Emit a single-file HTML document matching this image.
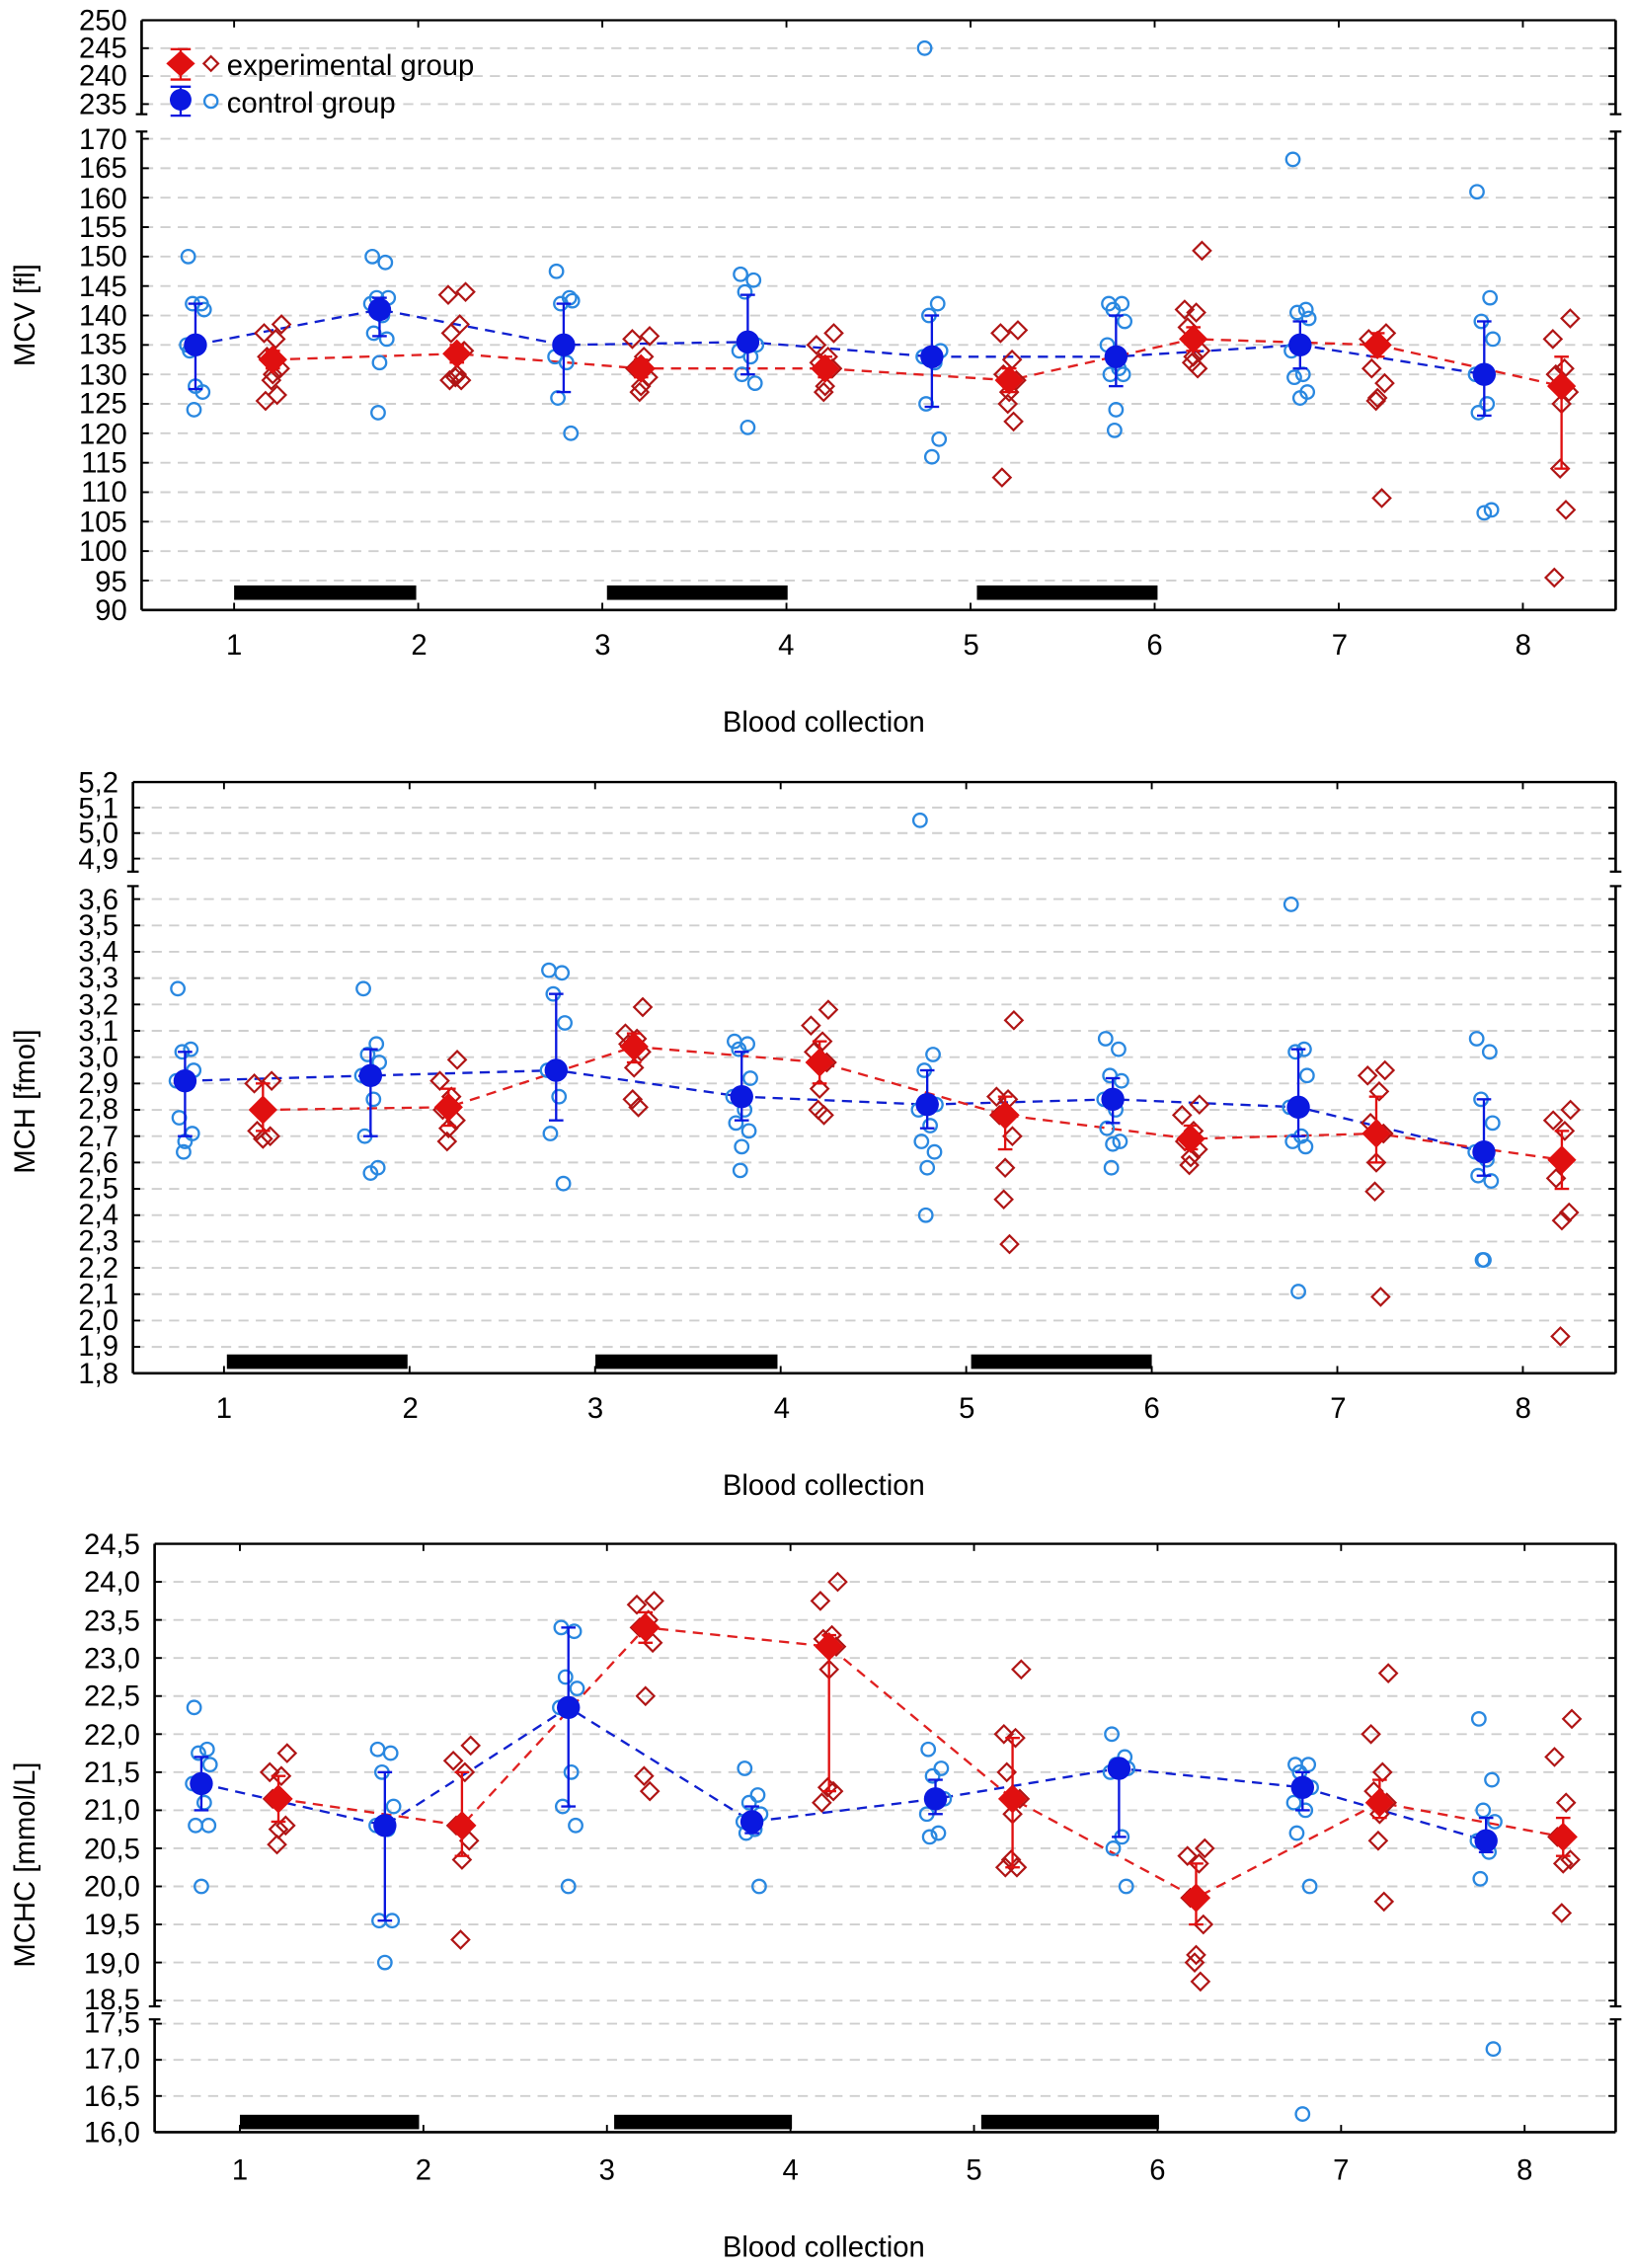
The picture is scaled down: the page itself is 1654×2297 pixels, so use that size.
<!DOCTYPE html>
<html><head><meta charset="utf-8"><style>
html,body{margin:0;padding:0;background:#fff}
svg{display:block}
text{font-family:"Liberation Sans",sans-serif;fill:#000}
.t{font-size:20px}
</style></head><body>
<svg id="s" width="1654" height="2297" viewBox="0 0 1130 1569" preserveAspectRatio="none" xmlns="http://www.w3.org/2000/svg">
<g id="g"></g>
<g class="t" text-anchor="end">
<text x="88" y="21">250</text><text x="88" y="40">245</text><text x="88" y="59">240</text><text x="88" y="79">235</text>
<text x="88" y="103">170</text><text x="88" y="123">165</text><text x="88" y="144">160</text><text x="88" y="164">155</text>
<text x="88" y="184">150</text><text x="88" y="205">145</text><text x="88" y="225">140</text><text x="88" y="245">135</text>
<text x="88" y="266">130</text><text x="88" y="286">125</text><text x="88" y="307">120</text><text x="88" y="327">115</text>
<text x="88" y="347">110</text><text x="88" y="368">105</text><text x="88" y="388">100</text><text x="88" y="409">95</text>
<text x="88" y="429">90</text>
</g>
<g class="t" text-anchor="middle">
<text x="162" y="453">1</text><text x="290" y="453">2</text><text x="417" y="453">3</text><text x="544" y="453">4</text>
<text x="672" y="453">5</text><text x="799" y="453">6</text><text x="927" y="453">7</text><text x="1054" y="453">8</text>
<text x="570" y="506">Blood collection</text>
</g>
<text class="t" transform="translate(24,218) rotate(-90)" text-anchor="middle">MCV [fl]</text>
<text class="t" x="157" y="52">experimental group</text>
<text class="t" x="157" y="78">control group</text>
<g class="t" text-anchor="end">
<text x="82" y="548">5,2</text><text x="82" y="566">5,1</text><text x="82" y="583">5,0</text><text x="82" y="601">4,9</text>
<text x="82" y="629">3,6</text><text x="82" y="647">3,5</text><text x="82" y="665">3,4</text><text x="82" y="683">3,3</text>
<text x="82" y="702">3,2</text><text x="82" y="720">3,1</text><text x="82" y="738">3,0</text><text x="82" y="756">2,9</text>
<text x="82" y="774">2,8</text><text x="82" y="793">2,7</text><text x="82" y="811">2,6</text><text x="82" y="829">2,5</text>
<text x="82" y="847">2,4</text><text x="82" y="865">2,3</text><text x="82" y="884">2,2</text><text x="82" y="902">2,1</text>
<text x="82" y="920">2,0</text><text x="82" y="938">1,9</text><text x="82" y="957">1,8</text>
</g>
<g class="t" text-anchor="middle">
<text x="155" y="981">1</text><text x="284" y="981">2</text><text x="412" y="981">3</text><text x="541" y="981">4</text>
<text x="669" y="981">5</text><text x="797" y="981">6</text><text x="926" y="981">7</text><text x="1054" y="981">8</text>
<text x="570" y="1034">Blood collection</text>
</g>
<text class="t" transform="translate(24,762) rotate(-90)" text-anchor="middle">MCH [fmol]</text>
<g class="t" text-anchor="end">
<text x="97" y="1075">24,5</text><text x="97" y="1101">24,0</text><text x="97" y="1128">23,5</text><text x="97" y="1154">23,0</text>
<text x="97" y="1180">22,5</text><text x="97" y="1207">22,0</text><text x="97" y="1233">21,5</text><text x="97" y="1259">21,0</text>
<text x="97" y="1286">20,5</text><text x="97" y="1312">20,0</text><text x="97" y="1338">19,5</text><text x="97" y="1365">19,0</text>
<text x="97" y="1390">18,5</text><text x="97" y="1406">17,5</text><text x="97" y="1431">17,0</text><text x="97" y="1457">16,5</text>
<text x="97" y="1482">16,0</text>
</g>
<g class="t" text-anchor="middle">
<text x="166" y="1508">1</text><text x="293" y="1508">2</text><text x="420" y="1508">3</text><text x="547" y="1508">4</text>
<text x="674" y="1508">5</text><text x="801" y="1508">6</text><text x="928" y="1508">7</text><text x="1055" y="1508">8</text>
<text x="570" y="1561">Blood collection</text>
</g>
<text class="t" transform="translate(24,1290) rotate(-90)" text-anchor="middle">MCHC [mmol/L]</text>
</svg>
<script>
(function(){
var NS="http://www.w3.org/2000/svg",G=document.getElementById("g");
function el(n,a){var e=document.createElementNS(NS,n);for(var k in a)e.setAttribute(k,a[k]);G.appendChild(e);return e;}
var BL="#0a18e0",LB="#2a88e0",RD="#e01010",DR="#b01515";
var J=[-5,4,-2,6,-6,2,-4,5,0,-1,3];
function chart(c){
  var ym=c.ym;
  c.grid.forEach(function(v){var y=ym(v);el("line",{x1:c.L+1,x2:c.R-1,y1:y,y2:y,stroke:"#cfcfcf","stroke-width":1.3,"stroke-dasharray":"7,5"});});
  el("line",{x1:c.L,x2:c.R,y1:c.T,y2:c.T,stroke:"#000","stroke-width":1.6});
  el("line",{x1:c.L,x2:c.R,y1:c.B,y2:c.B,stroke:"#000","stroke-width":1.8});
  [c.L,c.R].forEach(function(x){
    el("line",{x1:x,x2:x,y1:c.T,y2:c.b1,stroke:"#000","stroke-width":1.8});
    el("line",{x1:x,x2:x,y1:c.b2,y2:c.B,stroke:"#000","stroke-width":1.8});
    el("line",{x1:x-4,x2:x+4,y1:c.b1,y2:c.b1,stroke:"#000","stroke-width":1.5});
    el("line",{x1:x-4,x2:x+4,y1:c.b2,y2:c.b2,stroke:"#000","stroke-width":1.5});
    c.grid.forEach(function(v){var y=ym(v);el("line",{x1:x,x2:x+(x==c.L?5:-5),y1:y,y2:y,stroke:"#000","stroke-width":1.3});});
  });
  for(var i=0;i<8;i++){var x=c.x0+i*c.dx;
    el("line",{x1:x,x2:x,y1:c.B,y2:c.B-5,stroke:"#000","stroke-width":1.3});
    el("line",{x1:x,x2:x,y1:c.T,y2:c.T+5,stroke:"#000","stroke-width":1.3});}
  c.bars.forEach(function(b){el("rect",{x:b[0],y:c.barY,width:b[1]-b[0],height:10,fill:"#000"});});
  var off=c.dx*0.21;
  ["C","E"].forEach(function(g){
    var pts=c.d.map(function(d,i){return (c.x0+i*c.dx+(g=="C"?-off:off))+","+ym(d[g][0]);}).join(" ");
    el("polyline",{points:pts,fill:"none",stroke:g=="C"?"#1020d0":"#e02020","stroke-width":1.6,"stroke-dasharray":"7,5"});
  });
  c.d.forEach(function(d,i){
    var xc=c.x0+i*c.dx-off,xe=c.x0+i*c.dx+off;
    d.C[3].forEach(function(v,k){el("circle",{cx:xc+J[k%J.length],cy:ym(v),r:4.6,fill:"none",stroke:LB,"stroke-width":1.6});});
    d.E[3].forEach(function(v,k){var x=xe+J[(k+3)%J.length],y=ym(v);
      el("polygon",{points:(x)+","+(y-6)+" "+(x+6)+","+y+" "+x+","+(y+6)+" "+(x-6)+","+y,fill:"none",stroke:DR,"stroke-width":1.5});});
  });
  c.d.forEach(function(d,i){
    var xc=c.x0+i*c.dx-off,xe=c.x0+i*c.dx+off;
    [["C",xc,BL],["E",xe,RD]].forEach(function(q){var m=d[q[0]],x=q[1];
      var y1=ym(m[1]),y2=ym(m[2]);
      el("line",{x1:x,x2:x,y1:y1,y2:y2,stroke:q[2],"stroke-width":1.6});
      el("line",{x1:x-5,x2:x+5,y1:y1,y2:y1,stroke:q[2],"stroke-width":1.6});
      el("line",{x1:x-5,x2:x+5,y1:y2,y2:y2,stroke:q[2],"stroke-width":1.6});
      var y=ym(m[0]);
      if(q[0]=="C")el("circle",{cx:x,cy:y,r:8,fill:BL});
      else el("polygon",{points:x+","+(y-10)+" "+(x+10)+","+y+" "+x+","+(y+10)+" "+(x-10)+","+y,fill:RD});
    });
  });
}
function seg(u1,u2,l1,l2){return function(v){return v>=u2[0]?u2[1]+(v-u2[0])*(u1[1]-u2[1])/(u1[0]-u2[0]):l2[1]+(v-l2[0])*(l1[1]-l2[1])/(l1[0]-l2[0]);};}
function M(m,lo,hi,p){return [m,lo,hi,p];}
var g1=[250,245,240,235];for(var v=170;v>=90;v-=5)g1.push(v);
chart({L:98,R:1118,T:14,B:422,b1:79,b2:91,x0:162,dx:127.4,barY:405,
 ym:seg([250,14],[235,72],[170,96],[90,422]),grid:g1.filter(function(v){return v!=250&&v!=90;}),
 bars:[[162,288],[420,545],[676,801]],
 d:[
 {C:M(135,127.5,142,[150,142,142,141,135,135,134,127,128,124]),E:M(132.5,131,134,[138.5,137,136,133,131,130,129,126.5,125.5])},
 {C:M(141,136.5,143,[150,149,143,143,142,140,137,136,132,123.5]),E:M(133.5,132,135,[144,143.5,138.5,137,134,130,129.5,129,129])},
 {C:M(135,127,142,[147.5,143,142,142.5,133,132,126,120]),E:M(131,129.5,132.5,[136.5,136,133,131,129.5,128,127])},
 {C:M(135.5,130,143.5,[147,146,144,135,134,133,130,128.5,121]),E:M(131,129.5,133,[137,135,133,132,131,128,127])},
 {C:M(133,124.5,140,[245,142,140,134,133,132,125,119,116]),E:M(129,127,131,[137.5,137,132.5,130,129,127,125,122,112.5])},
 {C:M(133,128,140,[142,142,141,139,135,131,130,130,124,120.5]),E:M(136,134,138,[151,141,140.5,138,134,133,132,131])},
 {C:M(135,131,139,[166.5,141,140.5,139.5,134,130,129.5,127,126]),E:M(135,133,137,[137,136,135,131,128.5,126,125.5,109])},
 {C:M(130,123,139,[161,143,139,136,130,125,123.5,107,106.5]),E:M(128,114,133,[139.5,136,131,130,127,125,114,107,95.5])}]});
(function(){el("line",{x1:125,x2:125,y1:34,y2:55,stroke:RD,"stroke-width":1.6});
el("line",{x1:118,x2:132,y1:34,y2:34,stroke:RD,"stroke-width":1.6});el("line",{x1:118,x2:132,y1:55,y2:55,stroke:RD,"stroke-width":1.6});
el("polygon",{points:"125,35 135,44 125,53 115,44",fill:RD});
el("polygon",{points:"146,39 151,44 146,49 141,44",fill:"none",stroke:DR,"stroke-width":1.5});
el("line",{x1:125,x2:125,y1:60,y2:80,stroke:BL,"stroke-width":1.6});
el("line",{x1:118,x2:132,y1:60,y2:60,stroke:BL,"stroke-width":1.6});el("line",{x1:118,x2:132,y1:80,y2:80,stroke:BL,"stroke-width":1.6});
el("circle",{cx:125,cy:69,r:7.5,fill:BL});
el("circle",{cx:146,cy:70,r:4.5,fill:"none",stroke:LB,"stroke-width":1.6});})();
var g2=[5.1,5.0,4.9];for(var k=36;k>=19;k--)g2.push(k/10);
chart({L:92,R:1118,T:541,B:950,b1:603,b2:613,x0:155,dx:128.4,barY:937,
 ym:seg([5.2,541],[4.9,594],[3.6,622],[1.8,950]),grid:g2,
 bars:[[157,282],[412,538],[672,797]],
 d:[
 {C:M(2.91,2.70,3.02,[3.26,3.03,3.02,2.95,2.91,2.90,2.77,2.71,2.68,2.64]),E:M(2.80,2.72,2.90,[2.91,2.90,2.80,2.72,2.70,2.69])},
 {C:M(2.93,2.70,3.03,[3.26,3.05,3.01,2.98,2.93,2.84,2.70,2.58,2.56]),E:M(2.81,2.74,2.88,[2.99,2.91,2.85,2.80,2.76,2.73,2.68])},
 {C:M(2.95,2.76,3.24,[3.33,3.32,3.24,3.13,2.95,2.85,2.71,2.52]),E:M(3.04,2.98,3.09,[3.19,3.09,3.07,3.05,3.02,2.96,2.84,2.81])},
 {C:M(2.85,2.76,3.02,[3.06,3.05,3.03,2.92,2.85,2.80,2.75,2.72,2.66,2.57]),E:M(2.98,2.90,3.06,[3.18,3.12,3.06,3.02,2.98,2.88,2.80,2.78])},
 {C:M(2.82,2.73,2.95,[5.05,3.01,2.95,2.82,2.80,2.74,2.68,2.64,2.58,2.40]),E:M(2.78,2.65,2.85,[3.14,2.85,2.84,2.78,2.70,2.58,2.46,2.29])},
 {C:M(2.84,2.75,2.92,[3.07,3.03,2.93,2.91,2.84,2.80,2.73,2.68,2.67,2.58]),E:M(2.69,2.65,2.74,[2.82,2.78,2.72,2.68,2.65,2.62,2.59])},
 {C:M(2.81,2.70,3.03,[3.58,3.03,3.02,2.93,2.81,2.70,2.68,2.66,2.11]),E:M(2.71,2.60,2.85,[2.95,2.93,2.87,2.75,2.71,2.60,2.49,2.09])},
 {C:M(2.64,2.55,2.84,[3.07,3.02,2.84,2.75,2.64,2.61,2.55,2.53,2.23,2.23]),E:M(2.61,2.50,2.72,[2.80,2.76,2.72,2.54,2.41,2.38,1.94])}]});
var g3=[];for(var k=48;k>=37;k--)g3.push(k/2);g3.push(17.5,17.0,16.5);
chart({L:107,R:1118,T:1068,B:1475,b1:1388,b2:1397,x0:166,dx:127,barY:1463,
 ym:seg([24.5,1068],[18.5,1384],[17.5,1400],[16.0,1475]),grid:g3,
 bars:[[166,290],[425,548],[679,802]],
 d:[
 {C:M(21.35,21.0,21.7,[22.35,21.8,21.75,21.6,21.35,21.1,20.8,20.8,20.0]),E:M(21.15,20.85,21.45,[21.75,21.5,21.45,21.15,20.8,20.75,20.55])},
 {C:M(20.8,19.55,21.5,[21.8,21.75,21.5,21.05,20.8,20.75,19.55,19.55,19.0]),E:M(20.8,20.4,21.5,[21.85,21.65,21.5,20.8,20.6,20.35,19.3])},
 {C:M(22.35,21.05,23.4,[23.4,23.35,22.75,22.6,22.35,21.5,21.05,20.8,20.0]),E:M(23.4,23.2,23.6,[23.75,23.7,23.5,23.4,23.2,22.5,21.45,21.25])},
 {C:M(20.85,20.7,21.05,[21.55,21.2,21.1,20.95,20.85,20.75,20.7,20.0]),E:M(23.15,21.25,23.3,[24.0,23.75,23.3,23.25,23.15,22.85,21.3,21.25,21.1])},
 {C:M(21.15,20.95,21.4,[21.8,21.55,21.45,21.15,20.95,20.7,20.65]),E:M(21.15,20.25,21.95,[22.85,22.0,21.95,21.5,21.15,20.95,20.35,20.25,20.25])},
 {C:M(21.55,20.65,21.6,[22.0,21.7,21.6,21.55,21.5,20.65,20.5,20.0]),E:M(19.85,19.5,20.3,[20.5,20.4,20.3,19.85,19.5,19.1,19.0,18.75])},
 {C:M(21.3,21.0,21.5,[21.6,21.6,21.5,21.3,21.1,21.0,20.7,20.0,16.25]),E:M(21.1,20.9,21.4,[22.8,22.0,21.5,21.25,21.1,20.95,20.6,19.8])},
 {C:M(20.6,20.45,20.9,[22.2,21.4,21.0,20.85,20.6,20.45,20.1,17.15]),E:M(20.65,20.4,20.9,[22.2,21.7,21.1,20.65,20.35,20.3,19.65])}]});
})();
</script>
</body></html>
